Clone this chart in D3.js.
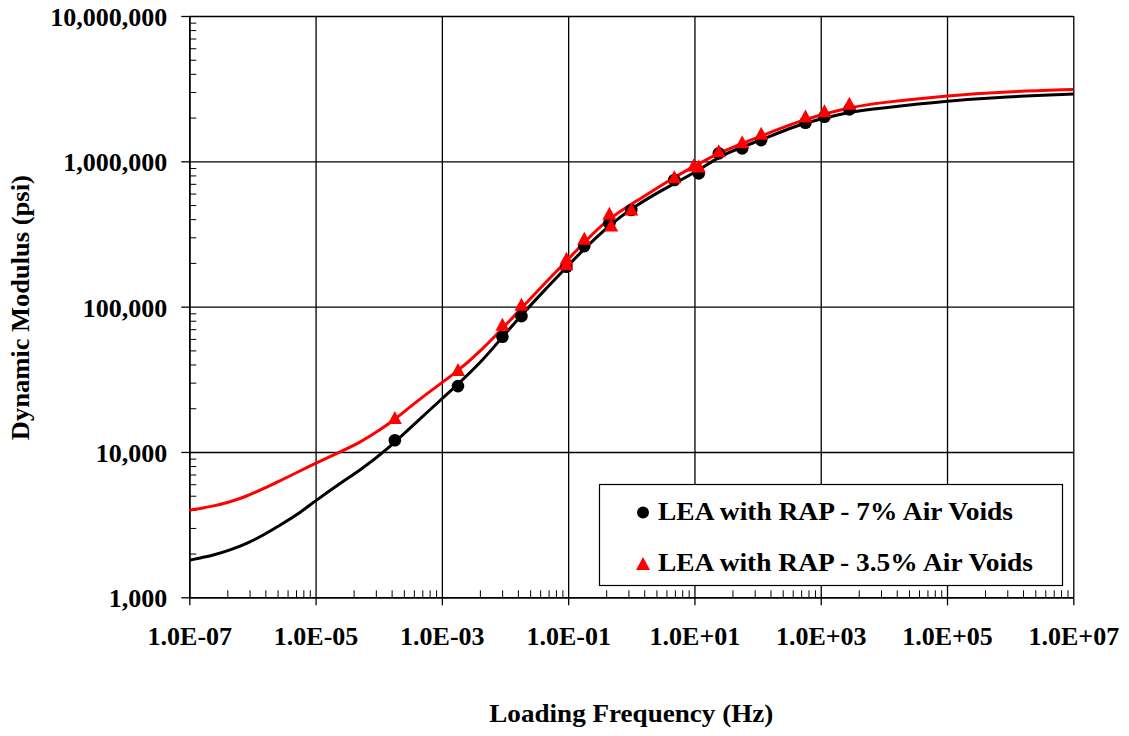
<!DOCTYPE html>
<html>
<head>
<meta charset="utf-8">
<script src="https://cdn.jsdelivr.net/npm/d3@7"></script>
<style>
  html, body { margin: 0; padding: 0; background: #fff; }
  svg { display: block; }
  text { font-family: "Liberation Serif", "Times New Roman", serif; font-weight: bold; fill: #000; }
</style>
</head>
<body>
<svg id="chart" width="1129" height="736"></svg>
<script>
// ---- Data ----
const xMajorTicks = [1e-7, 1e-5, 1e-3, 1e-1, 1e1, 1e3, 1e5, 1e7];
const xTickLabels = ["1.0E-07", "1.0E-05", "1.0E-03", "1.0E-01", "1.0E+01", "1.0E+03", "1.0E+05", "1.0E+07"];
const yMajorTicks = [1e3, 1e4, 1e5, 1e6, 1e7];
const yTickLabels = ["1,000", "10,000", "100,000", "1,000,000", "10,000,000"];

const seriesNames = ["LEA with RAP - 7% Air Voids", "LEA with RAP - 3.5% Air Voids"];

// measured points, 7% air voids (black circles)
const blackFreq = [1.8e-4, 1.8e-3, 9.1e-3, 1.82e-2, 9.4e-2, 0.18, 0.45, 1.0, 4.8, 11.7, 24.3, 57, 114, 573, 1146, 2845];
const blackE = [12050, 28400, 62000, 86000, 188000, 261000, 375000, 462000, 743000, 826000, 1135000, 1228000, 1400000, 1842000, 2027000, 2277000];

// measured points, 3.5% air voids (red triangles)
const redFreq = [1.8e-4, 1.8e-3, 9.1e-3, 1.82e-2, 9.4e-2, 9.4e-2, 0.18, 0.45, 0.48, 1.0, 4.8, 9.7, 11.7, 24.3, 57, 114, 573, 1146, 2845];
const redE = [17260, 37000, 75800, 104000, 215000, 197000, 295000, 440000, 364000, 470000, 783000, 943000, 927000, 1183000, 1363000, 1558000, 2050000, 2228000, 2506000];

// fitted master curve, 7% air voids (black line)
const blackCurveFreq = [1.0e-7, 2.43e-7, 4.4e-7, 8.1e-7, 1.48e-6, 2.72e-6, 5.0e-6, 9.75e-6, 2.42e-5, 5.02e-5, 1.33e-4, 4.47e-4, 1.80e-3, 4.49e-3, 9.1e-3, 1.82e-2, 3.99e-2, 9.38e-2, 0.182, 0.454, 1.0, 3.16, 12.1, 24.9, 58.3, 114, 361, 955, 2844, 8490, 96400, 859000, 1.0e7];
const blackCurveE = [1800, 1945, 2110, 2340, 2670, 3130, 3670, 4580, 6070, 7480, 10280, 16900, 29200, 42900, 61900, 87300, 126500, 186200, 251800, 363900, 474300, 640000, 871000, 1086000, 1259000, 1400000, 1730000, 1945000, 2193000, 2317000, 2600000, 2780000, 2904000];

// fitted master curve, 3.5% air voids (red line)
const redCurveFreq = [1.0e-7, 2.43e-7, 4.4e-7, 8.1e-7, 1.48e-6, 2.72e-6, 5.0e-6, 9.75e-6, 2.42e-5, 5.02e-5, 1.04e-4, 1.69e-4, 4.47e-4, 1.77e-3, 4.49e-3, 9.1e-3, 1.82e-2, 3.99e-2, 9.38e-2, 0.182, 0.454, 1.06, 4.84, 12.1, 24.9, 58.3, 114, 361, 955, 2844, 8490, 96400, 859000, 1.0e7];
const redCurveE = [3970, 4240, 4530, 4950, 5600, 6310, 7210, 8320, 10000, 11590, 14200, 16330, 23330, 35560, 51500, 70800, 97300, 140600, 205600, 279300, 411100, 512900, 783400, 968300, 1146000, 1330000, 1493000, 1824000, 2080000, 2350000, 2529000, 2825000, 3013000, 3126000];

// ---- Layout ----
const svg = d3.select("#chart");
const L = 189.3, R = 1073.3, T = 16, B = 597.3;
const FS = 26;

const x = d3.scaleLog().domain([1e-7, 1e7]).range([L, R]);
const y = d3.scaleLog().domain([1e3, 1e7]).range([B, T]);

// minor ticks
const xMinor = [];
for (let i = 0; i < xMajorTicks.length - 1; i++) {
  for (let k = 2; k <= 9; k++) xMinor.push(xMajorTicks[i] * k * k);
}
const yMinor = [];
for (let i = 0; i < yMajorTicks.length - 1; i++) {
  for (let k = 2; k <= 9; k++) yMinor.push(yMajorTicks[i] * k);
}

// gridlines
svg.append("g").attr("transform", `translate(0,${B})`)
  .call(d3.axisBottom(x).tickValues(xMajorTicks).tickSize(-(B - T)).tickFormat(""))
  .call(g => g.select(".domain").remove())
  .call(g => g.selectAll("line").attr("stroke", "#000").attr("stroke-width", 1.3));
svg.append("g").attr("transform", `translate(${L},0)`)
  .call(d3.axisLeft(y).tickValues(yMajorTicks).tickSize(-(R - L)).tickFormat(""))
  .call(g => g.select(".domain").remove())
  .call(g => g.selectAll("line").attr("stroke", "#000").attr("stroke-width", 1.3));

// minor ticks (inside)
svg.append("g").attr("transform", `translate(0,${B})`)
  .call(d3.axisBottom(x).tickValues(xMinor).tickSize(-7).tickFormat(""))
  .call(g => g.select(".domain").remove())
  .call(g => g.selectAll("line").attr("stroke", "#000").attr("stroke-width", 1));
svg.append("g").attr("transform", `translate(${L},0)`)
  .call(d3.axisLeft(y).tickValues(yMinor).tickSize(-7).tickFormat(""))
  .call(g => g.select(".domain").remove())
  .call(g => g.selectAll("line").attr("stroke", "#000").attr("stroke-width", 1));

// major axes with labels
const xAxisG = svg.append("g").attr("transform", `translate(0,${B})`)
  .call(d3.axisBottom(x).tickValues(xMajorTicks).tickSizeInner(8).tickSizeOuter(0)
    .tickFormat((d, i) => xTickLabels[i]));
xAxisG.select(".domain").attr("stroke", "#000").attr("stroke-width", 1.6);
xAxisG.selectAll("line").attr("stroke", "#000").attr("stroke-width", 1.3);
xAxisG.selectAll("text").attr("y", 48).attr("dy", null)
  .style("font-size", FS + "px").style("font-family", '"Liberation Serif", "Times New Roman", serif')
  .style("font-weight", "bold").attr("fill", "#000");

const yAxisG = svg.append("g").attr("transform", `translate(${L},0)`)
  .call(d3.axisLeft(y).tickValues(yMajorTicks).tickSizeInner(8).tickSizeOuter(0).tickPadding(14)
    .tickFormat((d, i) => yTickLabels[i]));
yAxisG.select(".domain").attr("stroke", "#000").attr("stroke-width", 1.6);
yAxisG.selectAll("line").attr("stroke", "#000").attr("stroke-width", 1.3);
yAxisG.selectAll("text").attr("dy", "0.37em")
  .style("font-size", FS + "px").style("font-family", '"Liberation Serif", "Times New Roman", serif')
  .style("font-weight", "bold").attr("fill", "#000");

// axis titles
svg.append("text").attr("x", (L + R) / 2).attr("y", 722).attr("text-anchor", "middle")
  .attr("textLength", 284).attr("lengthAdjust", "spacingAndGlyphs")
  .style("font-size", FS + "px").text("Loading Frequency (Hz)");
svg.append("text").attr("transform", `translate(29,${(T + B) / 2 + 1}) rotate(-90)`).attr("text-anchor", "middle")
  .attr("textLength", 265).attr("lengthAdjust", "spacingAndGlyphs")
  .style("font-size", FS + "px").text("Dynamic Modulus (psi)");

// curves
const line = d3.line().x(d => x(d[0])).y(d => y(d[1])).curve(d3.curveBasis);
svg.append("path").datum(d3.zip(blackCurveFreq, blackCurveE))
  .attr("d", line).attr("fill", "none").attr("stroke", "#000").attr("stroke-width", 3);
svg.append("path").datum(d3.zip(redCurveFreq, redCurveE))
  .attr("d", line).attr("fill", "none").attr("stroke", "#ff0000").attr("stroke-width", 3);

// markers
function tri(cx, cy, w, h) {
  return `M${cx},${cy - h / 2}L${cx + w / 2},${cy + h / 2}L${cx - w / 2},${cy + h / 2}Z`;
}
svg.append("g").selectAll("circle").data(d3.zip(blackFreq, blackE)).join("circle")
  .attr("cx", d => x(d[0])).attr("cy", d => y(d[1])).attr("r", 6.3).attr("fill", "#000");
svg.append("g").selectAll("path").data(d3.zip(redFreq, redE)).join("path")
  .attr("d", d => tri(x(d[0]), y(d[1]), 14, 13)).attr("fill", "#ff0000");

// legend
const lg = svg.append("g");
lg.append("rect").attr("x", 599.5).attr("y", 484.5).attr("width", 463).attr("height", 101)
  .attr("fill", "#fff").attr("stroke", "#000").attr("stroke-width", 1.2);
lg.append("circle").attr("cx", 643).attr("cy", 512.5).attr("r", 6).attr("fill", "#000");
lg.append("path").attr("d", tri(643, 563.5, 14, 13)).attr("fill", "#ff0000");
lg.append("text").attr("x", 658).attr("y", 520).style("font-size", FS + "px")
  .attr("textLength", 355).attr("lengthAdjust", "spacingAndGlyphs").text(seriesNames[0]);
lg.append("text").attr("x", 658).attr("y", 570.5).style("font-size", FS + "px")
  .attr("textLength", 375).attr("lengthAdjust", "spacingAndGlyphs").text(seriesNames[1]);
</script>
</body>
</html>
